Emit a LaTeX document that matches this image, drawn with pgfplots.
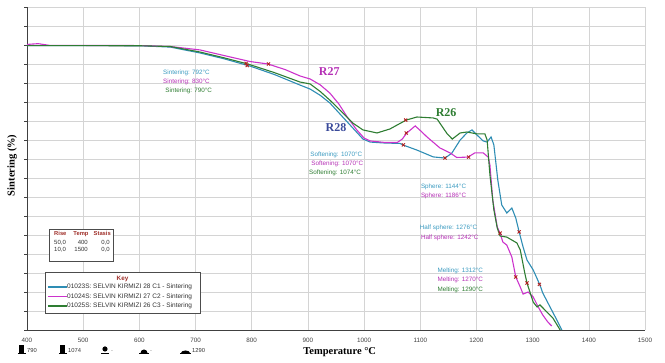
\documentclass[border=0pt]{standalone}
\usepackage{pgfplots}
\pgfplotsset{compat=1.18}
\usepackage{fontspec}
\setmainfont{Liberation Sans}
\newfontfamily\serifb{Liberation Serif}
\usetikzlibrary{calc}
\definecolor{ccyan}{HTML}{2E8DB4}
\definecolor{cmag}{HTML}{CC33CC}
\definecolor{cgreen}{HTML}{2E7D32}
\definecolor{tcyan}{HTML}{3A9AC0}
\definecolor{tmag}{HTML}{B530B5}
\definecolor{tgreen}{HTML}{2E7D32}
\definecolor{mred}{HTML}{B22222}
\definecolor{rnavy}{HTML}{3A4A9A}
\definecolor{keyred}{HTML}{A0302A}
\definecolor{gridc}{HTML}{D4D4D4}
\begin{document}
\begin{tikzpicture}
\begin{axis}[
  name=ax,
  scale only axis, width=618pt, height=323pt,
  xmin=400, xmax=1500, ymin=0, ymax=17,
  xtick={400,500,...,1500}, ytick={0,1,...,17}, yticklabels={},
  grid=major, major grid style={gridc, line width=0.6pt},
  axis x line*=bottom, axis y line*=left,
  axis line style={black!75, line width=0.7pt},
  xtick style={draw=none},
  ytick style={black!75, line width=0.5pt},
  tick align=outside, major tick length=3pt,
  /pgf/number format/assume math mode=true,
  /pgf/number format/1000 sep={},
  xticklabel style={font=\fontsize{6.3}{7}\selectfont, text=black!75, yshift=-2pt},
  xlabel={\serifb\bfseries Temperature °C},
  xlabel style={at={(axis description cs:0.506,-0.068)}, anchor=center, font=\fontsize{10.5}{12}\selectfont},
  ylabel={\serifb\bfseries Sintering (\%)},
  ylabel style={at={(axis description cs:-0.024,0.51)}, anchor=center, font=\fontsize{10.5}{12}\selectfont},
  clip=false,
]
\addplot[ccyan, line width=1.1pt] coordinates {
(400,14.97)(500,14.97)(601,14.96)(655,14.89)(708,14.58)(750,14.28)(797,13.89)(840,13.45)(886,12.89)(904,12.68)(922,12.35)(939,11.95)(957,11.37)(975,10.79)(998,10.05)(1011,9.89)(1037,9.84)(1064,9.82)(1069,9.74)(1094,9.47)(1123,9.11)(1144,9.05)(1156,9.3)(1171,10.0)(1183,10.37)(1192,10.53)(1201,10.26)(1212,9.95)(1219,9.89)(1226,10.16)(1231,9.74)(1238,7.89)(1245,6.58)(1254,6.16)(1263,6.42)(1270,5.89)(1276,5.16)(1283,4.37)(1290,3.68)(1301,3.16)(1313,2.37)(1318,1.95)(1331,1.21)(1343,0.53)(1352,0)
};
\addplot[cmag, line width=1.1pt] coordinates {
(400,15.03)(420,15.07)(440,14.98)(601,14.97)(655,14.92)(708,14.74)(750,14.45)(797,14.13)(829,14.0)(860,13.7)(886,13.37)(904,13.21)(922,12.9)(939,12.47)(955,11.9)(970,11.21)(987,10.53)(1000,10.1)(1011,9.95)(1037,9.87)(1059,9.87)(1068,10.05)(1076,10.37)(1091,10.74)(1100,10.5)(1112,10.16)(1135,9.58)(1153,9.32)(1165,9.08)(1185,9.1)(1197,9.32)(1212,9.32)(1221,9.1)(1224,8.68)(1229,6.84)(1237,5.42)(1242,5.1)(1247,4.63)(1254,4.47)(1263,3.84)(1270,2.79)(1278,2.26)(1283,1.89)(1292,2.0)(1301,1.74)(1310,1.21)(1318,0.79)(1327,0.42)(1334,0.21)
};
\addplot[cgreen, line width=1.1pt] coordinates {
(400,14.97)(601,14.96)(655,14.92)(708,14.63)(750,14.33)(793,14.0)(840,13.55)(886,13.05)(904,12.95)(922,12.55)(939,12.1)(957,11.58)(980,10.89)(998,10.53)(1023,10.37)(1046,10.58)(1075,11.05)(1094,11.21)(1123,11.16)(1130,11.1)(1148,10.32)(1157,10.05)(1171,10.37)(1183,10.42)(1201,10.32)(1215,10.32)(1219,10.0)(1224,8.16)(1231,6.32)(1237,5.37)(1242,4.95)(1254,4.89)(1272,4.58)(1278,4.21)(1286,3.0)(1290,2.47)(1301,1.47)(1308,1.21)(1313,1.32)(1322,1.05)(1336,0.63)(1349,0)
};
\addplot[only marks, mark=x, mark size=2.2pt, mred, line width=0.9pt] coordinates {
(792,13.92)(1070,9.74)(1144,9.05)(1276,5.16)(1312,2.4)
(830,14.0)(1075,10.37)(1186,9.1)(1242,5.1)(1270,2.79)
(790,14.03)(1074,11.05)(1290,2.47)
};
% annotations
\begin{scope}[every node/.style={font=\fontsize{6.3}{7}\selectfont, inner sep=0pt}]
\node[anchor=west, text=tcyan] at (axis cs:642,13.53) {Sintering: 792°C};
\node[anchor=west, text=tmag] at (axis cs:642,13.08) {Sintering: 830°C};
\node[anchor=west, text=tgreen] at (axis cs:646,12.58) {Sintering: 790°C};
\node[anchor=west, text=tcyan] at (axis cs:904,9.21) {Softening: 1070°C};
\node[anchor=west, text=tmag] at (axis cs:906,8.74) {Softening: 1070°C};
\node[anchor=west, text=tgreen] at (axis cs:902,8.26) {Softening: 1074°C};
\node[anchor=west, text=tcyan] at (axis cs:1101,7.53) {Sphere: 1144°C};
\node[anchor=west, text=tmag] at (axis cs:1101,7.05) {Sphere: 1186°C};
\node[anchor=west, text=tcyan] at (axis cs:1099,5.37) {Half sphere: 1276°C};
\node[anchor=west, text=tmag] at (axis cs:1101,4.84) {Half sphere: 1242°C};
\node[anchor=east, text=tcyan] at (axis cs:1212,3.10) {Melting: 1312°C};
\node[anchor=east, text=tmag] at (axis cs:1212,2.63) {Melting: 1270°C};
\node[anchor=east, text=tgreen] at (axis cs:1212,2.10) {Melting: 1290°C};
\end{scope}
\node[font=\serifb\bfseries\fontsize{12}{13}\selectfont, text=tmag] at (axis cs:938,13.58) {R27};
\node[font=\serifb\bfseries\fontsize{12}{13}\selectfont, text=rnavy] at (axis cs:950,10.63) {R28};
\node[font=\serifb\bfseries\fontsize{12}{13}\selectfont, text=tgreen] at (axis cs:1146,11.42) {R26};
\end{axis}
% Rise / Temp / Stasis box
\draw[black!70, line width=0.6pt, fill=white] (22pt,69pt) rectangle (86pt,101pt);
\begin{scope}[every node/.style={font=\fontsize{6}{6.5}\selectfont, inner sep=0pt}]
\node[anchor=base west, text=keyred, font=\bfseries\fontsize{5.8}{6}\selectfont] at (27pt,94pt) {Rise};
\node[anchor=base, text=keyred, font=\bfseries\fontsize{5.8}{6}\selectfont] at (54pt,94pt) {Temp};
\node[anchor=base east, text=keyred, font=\bfseries\fontsize{5.8}{6}\selectfont] at (84pt,94pt) {Stasis};
\node[anchor=base west, text=black!80] at (27pt,85pt) {50,0};
\node[anchor=base east, text=black!80] at (61pt,85pt) {400};
\node[anchor=base east, text=black!80] at (83pt,85pt) {0,0};
\node[anchor=base west, text=black!80] at (27pt,78pt) {10,0};
\node[anchor=base east, text=black!80] at (61pt,78pt) {1500};
\node[anchor=base east, text=black!80] at (83pt,78pt) {0,0};
\end{scope}
% Key box
\draw[black!70, line width=0.6pt, fill=white] (18pt,17pt) rectangle (173pt,58pt);
\begin{scope}[every node/.style={font=\fontsize{6.5}{7}\selectfont, inner sep=0pt, text=black!80}]
\node[text=keyred, font=\bfseries\fontsize{6.3}{7}\selectfont] at (95.5pt,51pt) {Key};
\draw[ccyan, line width=1.6pt] (21pt,43pt) -- (40pt,43pt);
\node[anchor=west] at (40pt,43pt) {01023S: SELVIN KIRMIZI 28 C1 - Sintering};
\draw[cmag, line width=1.6pt] (21pt,33.5pt) -- (40pt,33.5pt);
\node[anchor=west] at (40pt,33.5pt) {01024S: SELVIN KIRMIZI 27 C2 - Sintering};
\draw[cgreen, line width=1.6pt] (21pt,24pt) -- (40pt,24pt);
\node[anchor=west] at (40pt,24pt) {01025S: SELVIN KIRMIZI 26 C3 - Sintering};
\end{scope}
% shape icons below the axis
\begin{scope}[black, every node/.style={font=\fontsize{5.8}{6}\selectfont, inner sep=0pt, text=black!80}]
\fill (-7.5pt,-23pt) rectangle (-2.5pt,-15pt);
\draw[line width=0.8pt] (-9pt,-23pt) -- (-1pt,-23pt);
\node[anchor=base west] at (0pt,-23pt) {790};
\fill (33.5pt,-23pt) rectangle (38.5pt,-15pt);
\draw[line width=0.8pt] (32pt,-23pt) -- (40pt,-23pt);
\node[anchor=base west] at (41pt,-23pt) {1074};
\fill (78pt,-19pt) circle (2.6pt);
\draw[line width=0.8pt] (74pt,-23pt) -- (82pt,-23pt);
\node[anchor=base west, text=black!50] at (84pt,-23pt) {-};
\fill (113.5pt,-23pt) arc (180:0:3.5pt) -- cycle;
\draw[line width=0.8pt] (112pt,-23pt) -- (122pt,-23pt);
\node[anchor=base west, text=black!50] at (123pt,-23pt) {-};
\fill (154pt,-23pt) arc (180:0:4.5pt and 2.5pt) -- cycle;
\draw[line width=0.8pt] (153pt,-23pt) -- (164pt,-23pt);
\node[anchor=base west] at (165pt,-23pt) {1290};
\end{scope}
\pgfresetboundingbox
\path (-27pt,-33pt) rectangle (638pt,330pt);
\end{tikzpicture}
\end{document}
